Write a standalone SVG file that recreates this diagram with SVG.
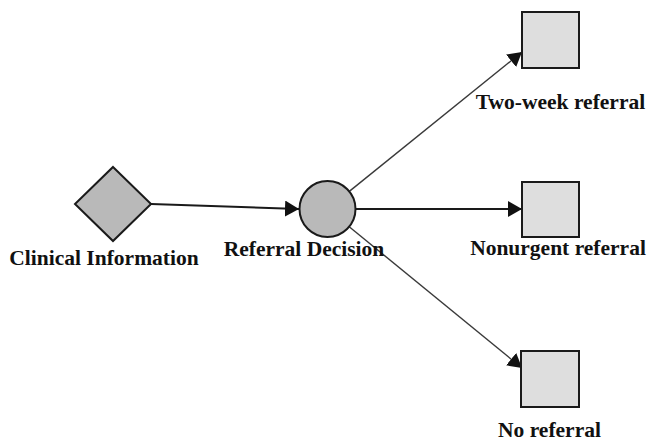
<svg xmlns="http://www.w3.org/2000/svg" width="647" height="441" viewBox="0 0 647 441">
<style>
  .lbl { font-family: "Liberation Serif", "Times New Roman", serif; font-weight: bold; font-size: 21.5px; fill: #111; }
  .node { stroke: #1a1a1a; stroke-width: 2; }
  .dark { fill: #b9b9b9; }
  .light { fill: #dedede; }
  .edge { fill: none; stroke: #1a1a1a; stroke-width: 2; }
  .thin { fill: none; stroke: #3a3a3a; stroke-width: 1.4; }
</style>
<defs>
  <marker id="arr" markerUnits="userSpaceOnUse" markerWidth="16" markerHeight="18" refX="14" refY="8" orient="auto">
    <path d="M0,0 L14,8 L0,16 Z" fill="#111"/>
  </marker>
</defs>
<rect width="647" height="441" fill="#ffffff"/>
<g id="connectors">
  <path class="edge" d="M151,204 L299,209" marker-end="url(#arr)"/>
  <path class="thin" d="M349.3,191.4 L522,52" marker-end="url(#arr)"/>
  <path class="edge" d="M355.5,209 L522,209" marker-end="url(#arr)"/>
  <path class="thin" d="M349.2,226.7 L522,368" marker-end="url(#arr)"/>
</g>
<g id="clinical-information">
  <polygon class="node dark" points="113,167 151,204 113,241 75,204"/>
  <text class="lbl" x="104" y="265" text-anchor="middle">Clinical Information</text>
</g>
<g id="referral-decision">
  <circle class="node dark" cx="327.5" cy="209" r="28"/>
  <text class="lbl" x="304" y="256" text-anchor="middle">Referral Decision</text>
</g>
<g id="two-week-referral">
  <rect class="node light" x="522" y="12" width="57" height="56"/>
  <text class="lbl" x="560.5" y="109" text-anchor="middle">Two-week referral</text>
</g>
<g id="nonurgent-referral">
  <rect class="node light" x="522" y="182" width="57" height="55"/>
  <text class="lbl" x="558" y="255" text-anchor="middle">Nonurgent referral</text>
</g>
<g id="no-referral">
  <rect class="node light" x="521" y="351" width="58" height="56"/>
  <text class="lbl" x="549.5" y="437" text-anchor="middle">No referral</text>
</g>
</svg>
